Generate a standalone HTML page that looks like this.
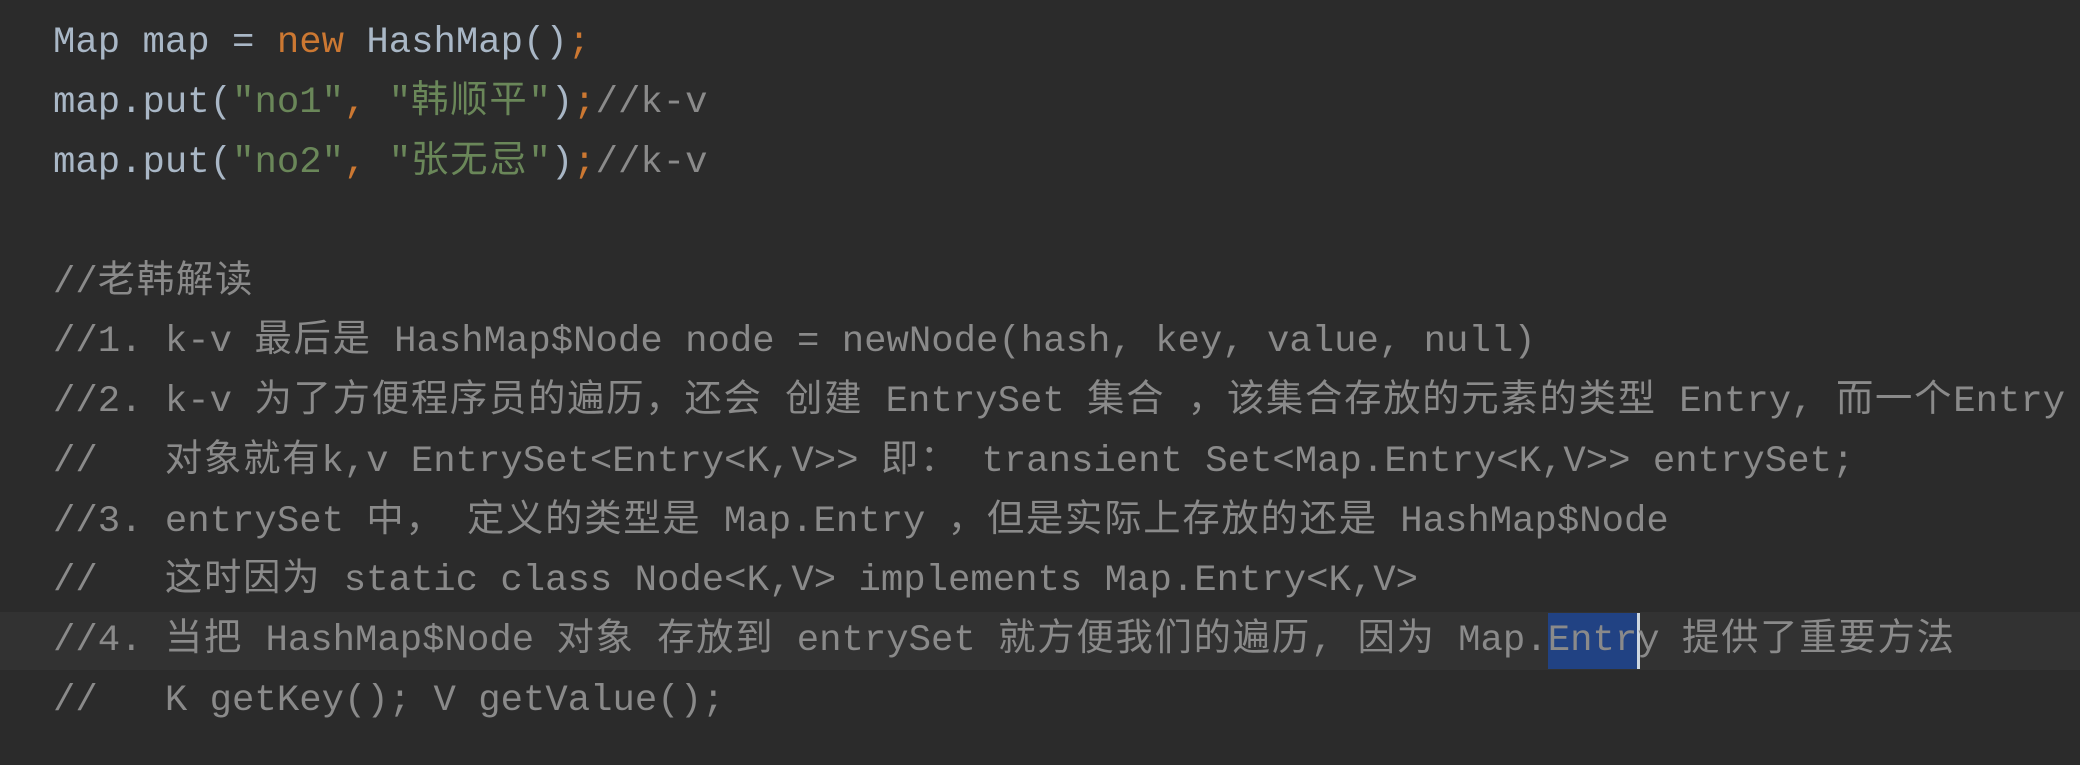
<!DOCTYPE html>
<html><head><meta charset="utf-8">
<style>
html,body{margin:0;padding:0;}
body{width:2080px;height:765px;background:#2b2b2b;position:relative;overflow:hidden;
font-family:"Liberation Mono","Noto Sans CJK SC",monospace;font-size:37.3px;color:#a9b7c6;}
.l{position:absolute;left:53px;white-space:pre;line-height:60px;height:60px;}
.k{color:#cc7832}.s{color:#6a8759}.c{color:#8a8a8a}
.z{letter-spacing:1.8px}
.cur{position:absolute;left:0;top:612px;width:2080px;height:58px;background:#323232;}
.sel{background:#214283;display:inline-block;line-height:56px;border-right:3px solid #cfd8e0;margin-right:-3px;}
</style></head><body>
<div class="cur"></div>
<div class="l" style="top:13px">Map map = <span class="k">new</span> HashMap()<span class="k">;</span></div>
<div class="l" style="top:73px">map.put(<span class="s">"no1"</span><span class="k">,</span> <span class="s">"<span class="z">韩顺平</span>"</span>)<span class="k">;</span><span class="c">//k-v</span></div>
<div class="l" style="top:133px">map.put(<span class="s">"no2"</span><span class="k">,</span> <span class="s">"<span class="z">张无忌</span>"</span>)<span class="k">;</span><span class="c">//k-v</span></div>
<div class="l c" style="top:253px">//<span class="z">老韩解读</span></div>
<div class="l c" style="top:312px">//1. k-v <span class="z">最后是</span> HashMap$Node node = newNode(hash, key, value, null)</div>
<div class="l c" style="top:372px">//2. k-v <span class="z">为了方便程序员的遍历，还会</span> <span class="z">创建</span> EntrySet <span class="z">集合</span> <span class="z">，该集合存放的元素的类型</span> Entry, <span class="z">而一个</span>Entry</div>
<div class="l c" style="top:432px">//   <span class="z">对象就有</span>k,v EntrySet&lt;Entry&lt;K,V&gt;&gt; <span class="z">即：</span> transient Set&lt;Map.Entry&lt;K,V&gt;&gt; entrySet;</div>
<div class="l c" style="top:492px">//3. entrySet <span class="z">中，</span> <span class="z">定义的类型是</span> Map.Entry <span class="z">，但是实际上存放的还是</span> HashMap$Node</div>
<div class="l c" style="top:551px">//   <span class="z">这时因为</span> static class Node&lt;K,V&gt; implements Map.Entry&lt;K,V&gt;</div>
<div class="l c" style="top:611px">//4. <span class="z">当把</span> HashMap$Node <span class="z">对象</span> <span class="z">存放到</span> entrySet <span class="z">就方便我们的遍历,</span> <span class="z">因为</span> Map.<span class="sel">Entr</span>y <span class="z">提供了重要方法</span></div>
<div class="l c" style="top:671px">//   K getKey(); V getValue();</div>
</body></html>
